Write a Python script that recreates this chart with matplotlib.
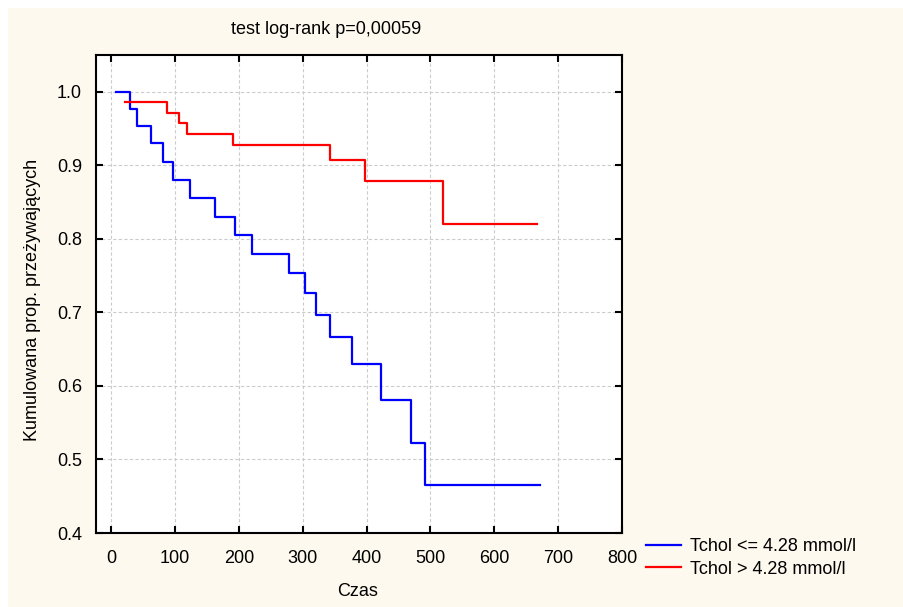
import matplotlib
matplotlib.use("Agg")
import matplotlib.pyplot as plt
from matplotlib.patches import Rectangle

plt.rcParams['font.family'] = ['Liberation Sans', 'DejaVu Sans']

# Blue group: Tchol <= 4.28 mmol/l (step times and survival levels)
blue_t = [8, 29, 40, 62, 81, 96, 123, 162, 193, 220, 278, 303, 321, 343, 377, 423, 469, 491, 672]
blue_s = [1.000, 0.976, 0.953, 0.930, 0.905, 0.880, 0.855, 0.830, 0.805, 0.779,
          0.753, 0.726, 0.696, 0.667, 0.630, 0.581, 0.523, 0.465, 0.465]

# Red group: Tchol > 4.28 mmol/l
red_t = [22, 87, 106, 119, 191, 342, 397, 519, 667]
red_s = [0.9855, 0.971, 0.957, 0.942, 0.927, 0.907, 0.879, 0.820, 0.820]

labels = ["Tchol <= 4.28 mmol/l", "Tchol > 4.28 mmol/l"]
title = "test log-rank p=0,00059"
xlabel = "Czas"
ylabel = "Kumulowana prop. przeżywających"
xticks = [0, 100, 200, 300, 400, 500, 600, 700, 800]
yticks = [0.4, 0.5, 0.6, 0.7, 0.8, 0.9, 1.0]

W, H = 904, 607
FS = 13
fig = plt.figure(figsize=(W / 100, H / 100), dpi=100)
fig.patch.set_facecolor('white')
fig.patches.append(Rectangle((8 / W, 0), 1 - 8 / W, 1 - 8 / H, transform=fig.transFigure,
                             facecolor='#fdf9ee', edgecolor='none', zorder=-10))

ax = fig.add_axes([96 / W, 1 - 533 / H, (622 - 96) / W, (533 - 55) / H])
ax.set_facecolor('white')

ax.step(blue_t, blue_s, where='post', color='#0000ff', lw=1.6, label=labels[0])
ax.step(red_t, red_s, where='post', color='#ff0000', lw=1.6, label=labels[1])

ax.set_xlim(-24, 800)
ax.set_ylim(0.4, 1.05)
ax.set_xticks(xticks)
ax.set_yticks(yticks)
ax.set_yticklabels([f"{v:.1f}" for v in yticks])
ax.grid(True, color='#cccccc', linestyle=(0, (3, 2)), linewidth=0.8)
ax.tick_params(direction='in', length=5, width=1.5, top=True, right=True,
               labelsize=FS, colors='black')
ax.tick_params(axis='x', pad=12)
ax.tick_params(axis='y', pad=10)
for s in ax.spines.values():
    s.set_linewidth(1.5)

fig.text(326 / W, 1 - 30 / H, title, ha='center', va='center', fontsize=FS)
fig.text(358 / W, 1 - 591 / H, xlabel, ha='center', va='center', fontsize=FS)
fig.text(33 / W, 1 - 300 / H, ylabel, ha='center', va='center', rotation=90, fontsize=FS)

ax.legend(loc='upper left', bbox_to_anchor=(630 / W, 1 - 522 / H),
          bbox_transform=fig.transFigure, frameon=False, fontsize=FS,
          handlelength=1.9, handletextpad=0.5, labelspacing=0.3)

fig.savefig('out.png', dpi=100)
